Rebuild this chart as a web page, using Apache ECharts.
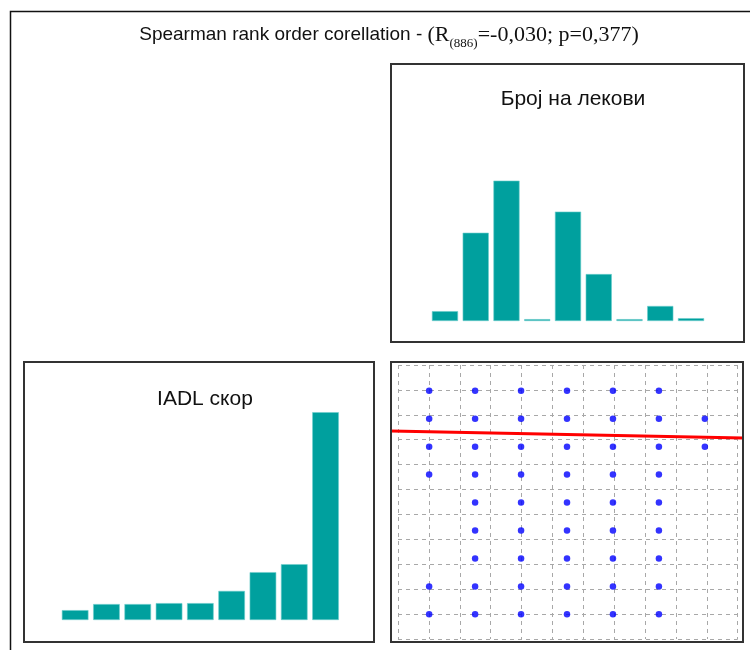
<!DOCTYPE html>
<html>
<head>
<meta charset="utf-8">
<script src="https://cdn.jsdelivr.net/npm/echarts@6/dist/echarts.min.js"></script>
<style>
  html, body { margin: 0; padding: 0; background: #fff; }
  #chart { width: 750px; height: 650px; }
</style>
</head>
<body>
<div id="chart"></div>
<script>
// histogram bins (no tick labels are shown in the picture)
const drugBins = ['b1', 'b2', 'b3', 'b4', 'b5', 'b6', 'b7', 'b8', 'b9'];
const drugCounts = [21, 188, 299, 4, 233, 100, 4, 32, 6];

const iadlBins = ['0', '1', '2', '3', '4', '5', '6', '7', '8'];
const iadlCounts = [21, 34, 34, 36, 36, 62, 102, 119, 443];

// scatter: for each IADL score, the drug counts that have at least one case
const scatterRows = [
  [8, [0, 1, 2, 3, 4, 5]],
  [7, [0, 1, 2, 3, 4, 5, 6]],
  [6, [0, 1, 2, 3, 4, 5, 6]],
  [5, [0, 1, 2, 3, 4, 5]],
  [4, [1, 2, 3, 4, 5]],
  [3, [1, 2, 3, 4, 5]],
  [2, [1, 2, 3, 4, 5]],
  [1, [0, 1, 2, 3, 4, 5]],
  [0, [0, 1, 2, 3, 4, 5]]
];

// fitted line (drugs, IADL) at the two edges of the plot
const fitLine = [[-0.83, 6.56], [6.83, 6.31]];

const sans = "'Liberation Sans Narrow', 'Arial Narrow', 'Liberation Sans', sans-serif";
const serif = "'Liberation Serif', 'Times New Roman', serif";
const barColor = '#00a09e';

let scatterData = [];
scatterRows.forEach(function (row) {
  row[1].forEach(function (d) {
    scatterData.push([d, row[0]]);
  });
});

const chart = echarts.init(document.getElementById('chart'), null, { renderer: 'canvas' });

const options = {
  backgroundColor: '#fff',
  animation: false,
  title: [
    {
      text: '{a|Spearman rank order corellation - }{b|(R}{sub|(886)}{b|=-0,030; p=0,377)}',
      left: 384,
      top: 17,
      textAlign: 'center',
      textStyle: {
        fontWeight: 'normal',
        rich: {
          a: { fontFamily: sans, fontSize: 19, fontWeight: 'normal', lineHeight: 26, color: '#111' },
          b: { fontFamily: serif, fontSize: 22, fontWeight: 'normal', lineHeight: 26, color: '#111' },
          sub: { fontFamily: serif, fontSize: 13, fontWeight: 'normal', lineHeight: 13, padding: [15, 0, 0, 0], verticalAlign: 'top', color: '#111' }
        }
      }
    },
    {
      text: 'Број на лекови',
      left: 568,
      top: 84,
      textAlign: 'center',
      textStyle: { fontFamily: sans, fontSize: 21, fontWeight: 'normal', color: '#111' }
    },
    {
      text: 'IADL скор',
      left: 200,
      top: 384,
      textAlign: 'center',
      textStyle: { fontFamily: sans, fontSize: 21, fontWeight: 'normal', color: '#111' }
    }
  ],
  grid: [
    // top-right histogram
    { left: 429.6, top: 121, width: 276.8, height: 200 },
    // bottom-left histogram
    { left: 59.5, top: 400, width: 281.7, height: 220 },
    // scatter plot
    { left: 391, top: 362, width: 352, height: 280 },
    // dashed grid of the scatter plot
    { left: 398, top: 365, width: 339.7, height: 274 }
  ],
  xAxis: [
    { gridIndex: 0, type: 'category', data: drugBins, show: false },
    { gridIndex: 1, type: 'category', data: iadlBins, show: false },
    { gridIndex: 2, type: 'value', min: -0.83, max: 6.83, show: false },
    {
      gridIndex: 3, type: 'value', min: 0, max: 11, interval: 1,
      axisLine: { show: false }, axisTick: { show: false }, axisLabel: { show: false },
      splitLine: { show: true, lineStyle: { color: '#a8a8a8', width: 1, type: [4, 4] } }
    }
  ],
  yAxis: [
    { gridIndex: 0, type: 'value', min: 0, max: 426, show: false },
    { gridIndex: 1, type: 'value', min: 0, max: 469, show: false },
    { gridIndex: 2, type: 'value', min: -0.99, max: 9.03, show: false },
    {
      gridIndex: 3, type: 'value', min: 0, max: 11, interval: 1,
      axisLine: { show: false }, axisTick: { show: false }, axisLabel: { show: false },
      splitLine: { show: true, lineStyle: { color: '#a8a8a8', width: 1, type: [4, 4] } }
    }
  ],
  series: [
    {
      type: 'bar', xAxisIndex: 0, yAxisIndex: 0, data: drugCounts,
      barCategoryGap: '15%',
      itemStyle: { color: barColor, borderColor: '#6fcfcc', borderWidth: 0.6 }
    },
    {
      type: 'bar', xAxisIndex: 1, yAxisIndex: 1, data: iadlCounts,
      barCategoryGap: '15%',
      itemStyle: { color: barColor, borderColor: '#6fcfcc', borderWidth: 0.6 }
    },
    {
      type: 'scatter', xAxisIndex: 2, yAxisIndex: 2, data: scatterData,
      symbol: 'circle', symbolSize: 6.5,
      itemStyle: { color: '#0000ff' }, z: 3
    },
    {
      type: 'line', xAxisIndex: 2, yAxisIndex: 2, data: fitLine,
      symbol: 'none',
      lineStyle: { color: '#ff0000', width: 3 }, z: 4
    }
  ],
  graphic: [
    // outer frame (left and top edges only are inside the picture)
    { type: 'polyline', shape: { points: [[10.5, 650], [10.5, 11.5], [750, 11.5]] },
      style: { stroke: '#111', lineWidth: 1.5, fill: null }, z: 10 },
    { type: 'rect', shape: { x: 391, y: 64, width: 353, height: 278 },
      style: { stroke: '#333', lineWidth: 2, fill: null }, z: 10 },
    { type: 'rect', shape: { x: 24, y: 362, width: 350, height: 280 },
      style: { stroke: '#333', lineWidth: 2, fill: null }, z: 10 },
    { type: 'rect', shape: { x: 391, y: 362, width: 352, height: 280 },
      style: { stroke: '#333', lineWidth: 2, fill: null }, z: 10 }
  ]
};

chart.setOption(options);
</script>
</body>
</html>
